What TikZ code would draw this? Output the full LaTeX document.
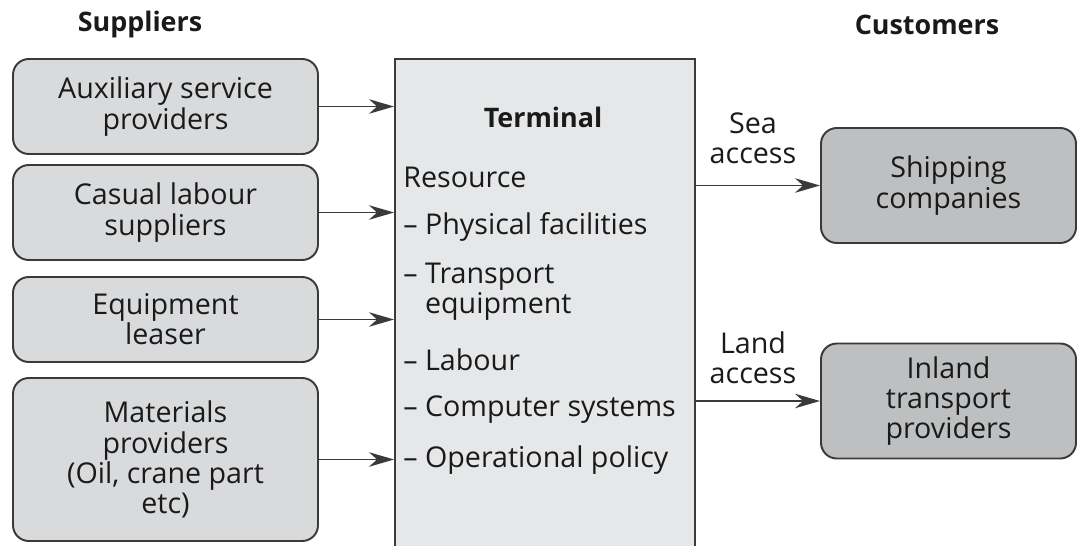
\documentclass[tikz,border=0pt]{standalone}
\usepackage{fontspec}
\setmainfont{Open Sans}
\usepackage{xcolor}
\usepackage{tikz}
\usetikzlibrary{calc,arrows.meta}
\definecolor{supFill}{HTML}{D9DADC}
\definecolor{custFill}{HTML}{BEBFC1}
\definecolor{termFill}{HTML}{E6E7E8}
\definecolor{boxLine}{HTML}{3A3A3A}
\definecolor{inkGrey}{HTML}{1A1A1A}
\tikzset{
  supbox/.style={rectangle, rounded corners=9pt, draw=boxLine, fill=supFill, line width=1.1pt, align=center, font=\fontsize{16.3}{17.2}\selectfont, text=inkGrey, minimum width=6.1cm, inner sep=2pt},
  custbox/.style={rectangle, rounded corners=9pt, draw=boxLine, fill=custFill, line width=1.1pt, align=center, font=\fontsize{16.3}{17.2}\selectfont, text=inkGrey, minimum width=5.1cm, minimum height=2.3cm, inner sep=2pt},
  termbox/.style={rectangle, draw=boxLine, fill=termFill, line width=1.1pt, minimum width=6.0cm, minimum height=9.95cm, inner sep=0pt},
  termitem/.style={font=\fontsize{16.3}{17.2}\selectfont, text=inkGrey, anchor=west, align=left, inner sep=0pt},
  headlabel/.style={font=\fontsize{15.3}{17}\selectfont\bfseries, text=inkGrey},
  acclabel/.style={font=\fontsize{16.3}{17.2}\selectfont, text=inkGrey, align=center},
  flowarrow/.style={-{Stealth[length=5mm,width=2.9mm,inset=1.6mm]}, line width=1pt, draw=boxLine},
}
\begin{document}
\begin{tikzpicture}[x=1cm,y=1cm]
  \useasboundingbox (0,0) rectangle (21.56,10.9);

  % ---------- headings ----------
  \node[headlabel] (supHead)  at (2.8,10.4)   {Suppliers};
  \node[headlabel] (custHead) at (18.54,10.4) {Customers};

  % ---------- suppliers ----------
  \node[supbox, minimum height=1.9cm]  (aux)   at (3.31,8.77) {Auxiliary service\\providers};
  \node[supbox, minimum height=1.9cm]  (cas)   at (3.31,6.65) {Casual labour\\suppliers};
  \node[supbox, minimum height=1.7cm]  (equip) at (3.31,4.51) {Equipment\\leaser};
  \node[supbox, minimum height=3.26cm] (mat)   at (3.31,1.71) {Materials\\providers\\(Oil, crane part\\etc)};

  % ---------- terminal ----------
  \node[termbox] (term) at (10.9,4.75) {};
  \node[headlabel] (termHead) at (10.86,8.56) {Terminal};
  \node[termitem] (res)  at (8.06,7.36) {Resource};
  \node[termitem] (phys) at (8.06,6.36) {\textendash{} Physical facilities};
  \node[termitem] (tran) at (8.06,5.06) {\textendash{} Transport\\\phantom{\textendash{} }equipment};
  \node[termitem] (lab)  at (8.06,3.70) {\textendash{} Labour};
  \node[termitem] (comp) at (8.06,2.70) {\textendash{} Computer systems};
  \node[termitem] (oper) at (8.06,1.70) {\textendash{} Operational policy};

  % ---------- customers ----------
  \node[custbox] (ship)   at (18.97,7.19) {Shipping\\companies};
  \node[custbox] (inland) at (18.97,2.88) {Inland\\transport\\providers};

  \node[acclabel] (sea)  at (15.06,8.14) {Sea\\access};
  \node[acclabel] (land) at (15.06,3.74) {Land\\access};

  % ---------- suppliers -> terminal ----------
  \draw[flowarrow] (aux.east)   -- (aux.east -| term.west);
  \draw[flowarrow] (cas.east)   -- (cas.east -| term.west);
  \draw[flowarrow] (equip.east) -- (equip.east -| term.west);
  \draw[flowarrow] (mat.east)   -- (mat.east -| term.west);

  % ---------- terminal -> customers ----------
  \draw[flowarrow] (ship.west -| term.east)   -- (ship.west);
  \draw[flowarrow] (inland.west -| term.east) -- (inland.west);

\end{tikzpicture}
\end{document}
